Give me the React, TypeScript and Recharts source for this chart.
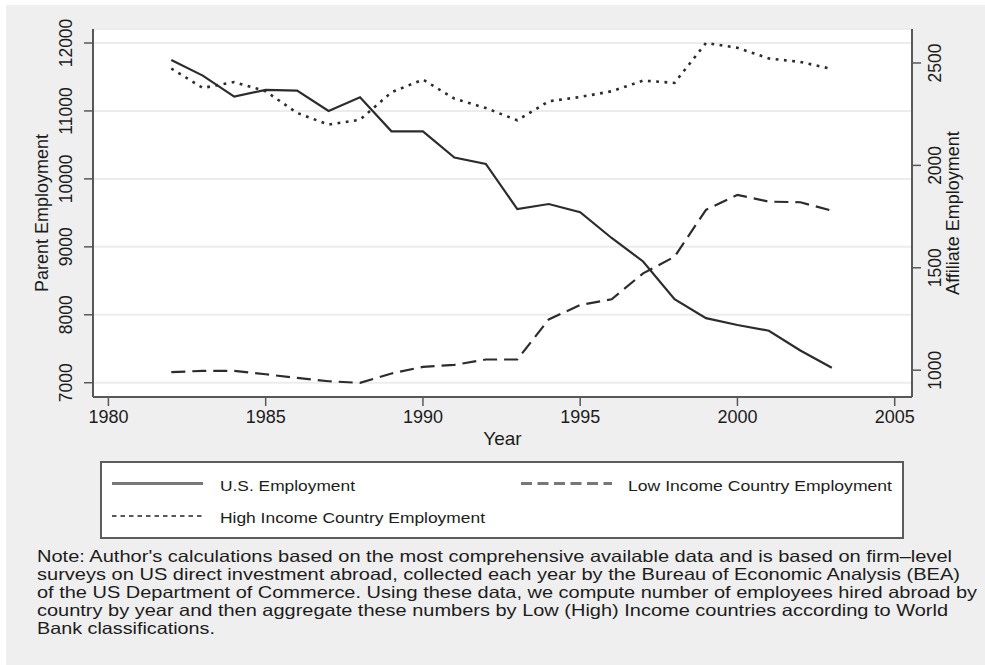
import { CartesianGrid, Label, Line, LineChart, XAxis, YAxis } from 'recharts';

// Employment series, 1982-2003 (parent in left-axis units, affiliates on the right axis)
const years = [
  1982, 1983, 1984, 1985, 1986, 1987, 1988, 1989, 1990, 1991, 1992,
  1993, 1994, 1995, 1996, 1997, 1998, 1999, 2000, 2001, 2002, 2003,
];
const usEmployment = [
  11750, 11520, 11210, 11310, 11300, 11000, 11200, 10700, 10700, 10315, 10220,
  9555, 9630, 9510, 9130, 8785, 8230, 7950, 7850, 7765, 7475, 7220,
];
const lowIncomeEmployment = [
  990, 997, 997, 980, 962, 946, 938, 984, 1016, 1026, 1052,
  1052, 1248, 1318, 1346, 1473, 1554, 1783, 1856, 1823, 1820, 1779,
];
const highIncomeEmployment = [
  2473, 2378, 2407, 2362, 2256, 2199, 2223, 2357, 2419, 2326, 2280,
  2220, 2313, 2334, 2362, 2414, 2403, 2598, 2574, 2522, 2505, 2471,
];

const yearTicks = [1980, 1985, 1990, 1995, 2000, 2005];
const parentTicks = [7000, 8000, 9000, 10000, 11000, 12000];
const affiliateTicks = [1000, 1500, 2000, 2500];

const noteLines = [
  "Note: Author's calculations based on the most comprehensive available data and is based on firm\u2013level",
  'surveys on US direct investment abroad, collected each year by the Bureau of Economic Analysis (BEA)',
  'of the US Department of Commerce. Using these data, we compute number of employees hired abroad by',
  'country by year and then aggregate these numbers by Low (High) Income countries according to World',
  'Bank classifications.',
];
const noteWidths = [915, 923, 940, 911, 178];

const FONT = '"Liberation Sans", Arial, Helvetica, sans-serif';
const INK = '#1c1c1c';
const LINE = '#2c2c2c';
const AXIS = '#585858';

const series = [
  { key: 'us', name: 'U.S. Employment', axis: 'parent', dash: undefined, width: 2.2 },
  { key: 'low', name: 'Low Income Country Employment', axis: 'affiliate', dash: '14 7', width: 2.2 },
  { key: 'high', name: 'High Income Country Employment', axis: 'affiliate', dash: '2.8 5.5', width: 2.6 },
];

// legend slots: sample line start, label start, row baseline, label width
const legendSlots: Record<string, { x: number; tx: number; y: number; w: number; sample: any }> = {
  us: { x: 112, tx: 220, y: 483.5, w: 135, sample: { stroke: '#777', strokeWidth: 3 } },
  low: {
    x: 521, tx: 628, y: 483.5, w: 264,
    sample: { stroke: '#777', strokeWidth: 3, strokeDasharray: '11 5.5' },
  },
  high: {
    x: 112, tx: 220, y: 516, w: 265,
    sample: { stroke: '#222', strokeWidth: 1.3, strokeDasharray: '4.5 4' },
  },
};

const data = years.map((year, i) => ({
  year,
  us: usEmployment[i],
  low: lowIncomeEmployment[i],
  high: highIncomeEmployment[i],
}));

function LeftTick({ x, y, payload }: any) {
  const bx = x - 12.3;
  return (
    <text x={bx} y={y} transform={`rotate(-90, ${bx}, ${y})`} textAnchor="middle"
      fontSize={17.5} fontFamily={FONT} fill={INK}>
      {payload.value}
    </text>
  );
}

function RightTick({ x, y, payload }: any) {
  const bx = x + 19.7;
  return (
    <text x={bx} y={y} transform={`rotate(-90, ${bx}, ${y})`} textAnchor="middle"
      fontSize={17.5} fontFamily={FONT} fill={INK}>
      {payload.value}
    </text>
  );
}

function YearTick({ x, y, payload }: any) {
  return (
    <text x={x} y={y + 17.3} textAnchor="middle" fontSize={18} fontFamily={FONT} fill={INK}>
      {payload.value}
    </text>
  );
}

function verticalTitle(text: string, dx: number) {
  return ({ viewBox }: any) => {
    const bx = viewBox.x + dx;
    const cy = viewBox.y + viewBox.height / 2;
    return (
      <text x={bx} y={cy} transform={`rotate(-90, ${bx}, ${cy})`} textAnchor="middle"
        fontSize={18} fontFamily={FONT} fill={INK}>
        {text}
      </text>
    );
  };
}

function yearTitle({ viewBox }: any) {
  return (
    <text x={viewBox.x + viewBox.width / 2} y={viewBox.y + 48} textAnchor="middle"
      fontSize={19} fontFamily={FONT} fill={INK}>
      Year
    </text>
  );
}

function LegendAndNote() {
  return (
    <svg width={985} height={665} style={{ position: 'absolute', left: 0, top: 0 }}>
      <rect x={101} y={462} width={802} height={76} fill="#fff" stroke="#5c5c5c" strokeWidth={2} />
      {series.map((s) => {
        const slot = legendSlots[s.key];
        return (
          <g key={s.key}>
            <line x1={slot.x} x2={slot.x + 91} y1={slot.y} y2={slot.y} {...slot.sample} />
            <text x={slot.tx} y={slot.y + 7} fontSize={15.5} fontFamily={FONT} fill={INK}
              textLength={slot.w} lengthAdjust="spacingAndGlyphs">
              {s.name}
            </text>
          </g>
        );
      })}
      {noteLines.map((line, i) => (
        <text key={i} x={37} y={562 + i * 18} fontSize={16.5} fontFamily={FONT} fill={INK}
          textLength={noteWidths[i]} lengthAdjust="spacingAndGlyphs">
          {line}
        </text>
      ))}
    </svg>
  );
}

export default function App() {
  return (
    <div style={{ position: 'absolute', left: 0, top: 0, width: 985, height: 665, background: '#fff' }}>
      <div style={{ position: 'absolute', left: 6, top: 5, width: 979, height: 660, background: '#efefef' }} />
      <div style={{ position: 'absolute', left: 0, top: 0 }}>
        <LineChart width={985} height={450} data={data}
          margin={{ top: 29, right: 13, bottom: 23, left: 33 }}>
          <CartesianGrid yAxisId="parent" vertical={false} fill="#fff" stroke="#ececec" strokeWidth={2} />
          <XAxis dataKey="year" type="number" domain={[1979.51, 2005.55]} ticks={yearTicks}
            height={30} tick={<YearTick />} tickSize={9} tickMargin={0}
            axisLine={{ stroke: AXIS, strokeWidth: 2 }} tickLine={{ stroke: AXIS, strokeWidth: 1.5 }}
            allowDataOverflow>
            <Label content={yearTitle} />
          </XAxis>
          <YAxis yAxisId="parent" orientation="left" width={60} domain={[6790, 12206]}
            ticks={parentTicks} tick={<LeftTick />} tickSize={9} tickMargin={0}
            axisLine={{ stroke: AXIS, strokeWidth: 2 }} tickLine={{ stroke: AXIS, strokeWidth: 1.5 }}
            allowDataOverflow>
            <Label content={verticalTitle('Parent Employment', 15)} />
          </YAxis>
          <YAxis yAxisId="affiliate" orientation="right" width={60} domain={[869, 2666]}
            ticks={affiliateTicks} tick={<RightTick />} tickSize={9} tickMargin={0}
            axisLine={{ stroke: AXIS, strokeWidth: 2 }} tickLine={{ stroke: AXIS, strokeWidth: 1.5 }}
            allowDataOverflow>
            <Label content={verticalTitle('Affiliate Employment', 47)} />
          </YAxis>
          {series.map((s) => (
            <Line key={s.key} yAxisId={s.axis} dataKey={s.key} name={s.name} type="linear"
              stroke={LINE} strokeWidth={s.width} strokeDasharray={s.dash} dot={false}
              activeDot={false} isAnimationActive={false} />
          ))}
        </LineChart>
      </div>
      <LegendAndNote />
    </div>
  );
}
